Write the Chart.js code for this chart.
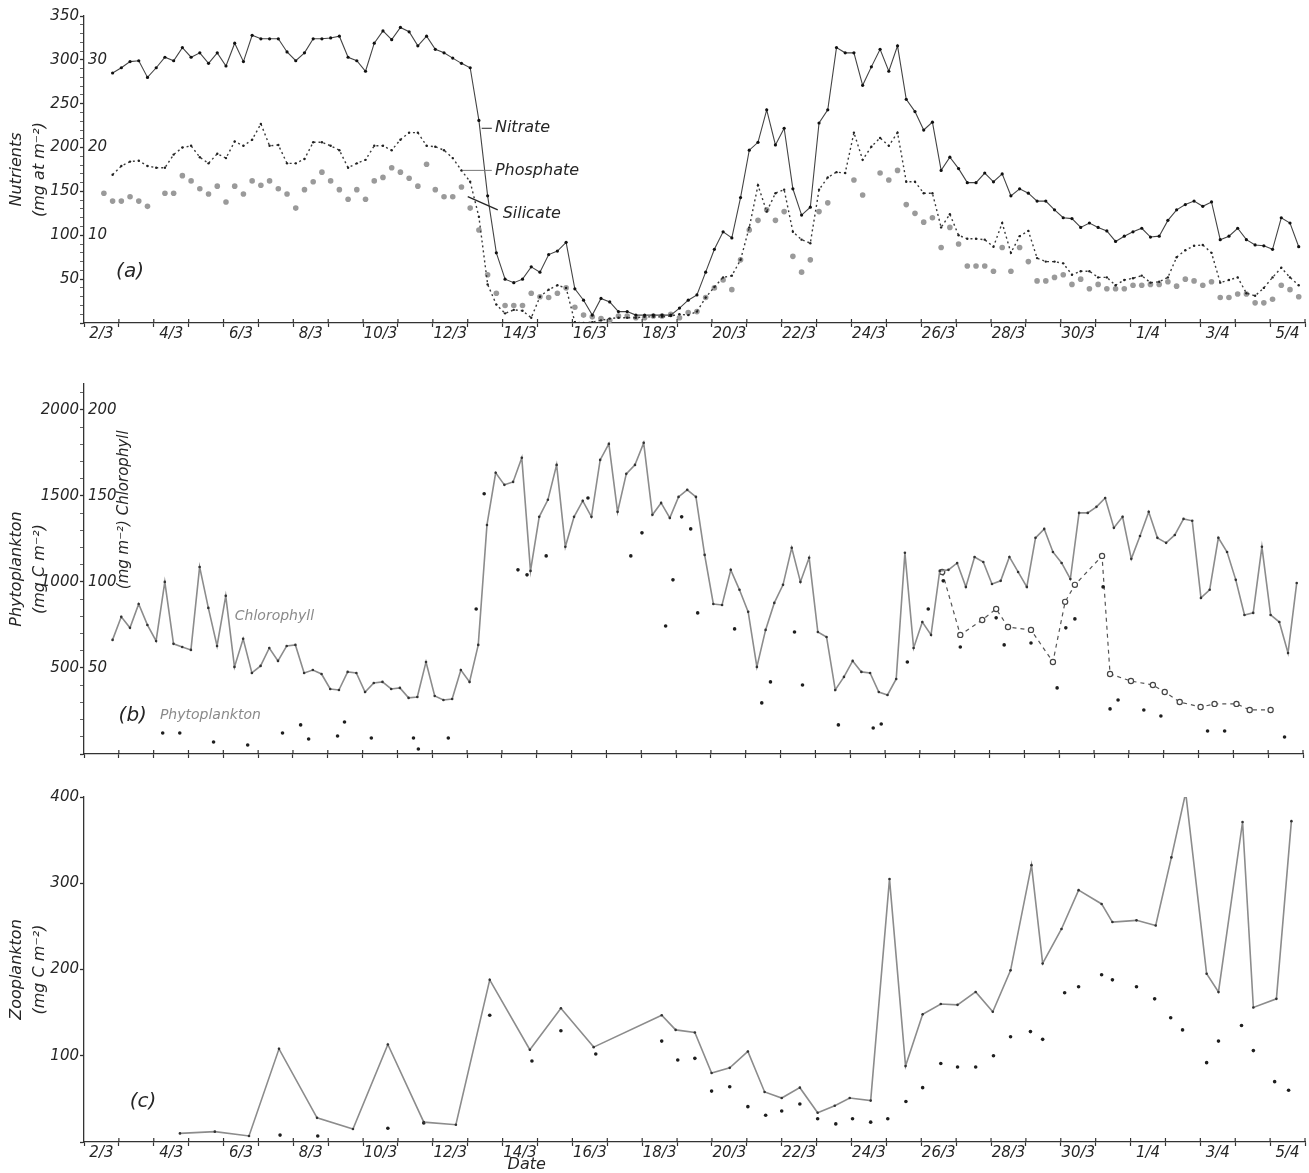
<!DOCTYPE html>
<html><head><meta charset="utf-8">
<script src="https://cdn.jsdelivr.net/npm/chart.js@4.4.1/dist/chart.umd.min.js"></script>
<style>
html,body{margin:0;padding:0;background:#fff;}
#wrap{position:relative;width:1309px;height:1173px;background:#fff;}
canvas{position:absolute;left:0;}
</style></head><body>
<div id="wrap">
<canvas id="ca" width="1309" height="370" style="top:0px"></canvas>
<canvas id="cb" width="1309" height="400" style="top:370px"></canvas>
<canvas id="cc" width="1309" height="403" style="top:770px"></canvas>
</div>
<script>
// ---------- categories / tick labels ----------
const dateTickDays   = [2,4,6,8,10,12,14,16,18,20,22,24,26,28,30,32,34,36];
const dateTickLabels = ['2/3','4/3','6/3','8/3','10/3','12/3','14/3','16/3','18/3','20/3','22/3','24/3','26/3','28/3','30/3','1/4','3/4','5/4'];
const nutrientLabels = [50,100,150,200,250,300,350];
const phosphateLabels = [10,20,30];
const phytoLabels = [500,1000,1500,2000];
const chlLabels = [50,100,150,200];
const zooLabels = [100,200,300,400];
const SAMPLE_STEP = 0.25; // 6-hourly sampling (days)

// ---------- (a) nutrients ----------
const nitrateStart = 2.82;
const nitrate = [285,291,298,299,280,291,303,299,314,303,
 308,296,308,293,319,298,328,324,324,324,
 309,299,308,324,324,325,327,303,299,287,
 319,333,323,337,332,316,327,312,308,302,
 296,291,231,145,80,50,46,50,64,58,
 78,82,92,39,26,9,28,24,13,13,
 9,9,9,9,9,17,26,32,58,84,
 104,97,143,197,206,243,203,222,153,123,
 132,228,243,314,308,308,271,292,312,287,
 316,255,241,220,229,174,189,176,160,160,
 171,161,170,145,153,148,139,139,129,120,
 119,109,114,109,105,93,99,104,108,98,
 99,117,129,135,139,133,138,95,99,108,
 95,89,88,84,120,114,87];
const phosphateStart = 2.82;
const phosphate = [16.9,17.9,18.4,18.5,17.9,17.7,17.7,19.2,20.0,20.2,
 18.9,18.2,19.3,18.8,20.7,20.2,20.9,22.7,20.2,20.3,
 18.2,18.2,18.7,20.6,20.6,20.2,19.7,17.7,18.2,18.6,
 20.2,20.2,19.7,20.9,21.7,21.7,20.2,20.1,19.7,18.8,
 17.4,16.1,12.1,4.4,2.1,1.1,1.5,1.4,0.6,3.0,
 3.8,4.3,4.0,0.1,0,0.1,0.3,0.5,0.6,0.6,
 0.6,0.7,0.7,0.7,0.8,1.0,0.9,1.3,2.9,4.1,
 5.2,5.4,7.2,10.9,15.7,12.7,14.8,15.2,10.4,9.5,
 9.1,15.2,16.6,17.2,17.1,21.7,18.6,20.1,21.1,20.2,
 21.7,16.1,16.1,14.8,14.8,10.9,12.4,10.0,9.6,9.6,
 9.5,8.7,11.4,8.0,9.9,10.5,7.4,7.0,7.0,6.8,
 5.5,5.9,5.9,5.2,5.2,4.3,4.9,5.1,5.4,4.6,
 4.7,5.2,7.5,8.3,8.8,8.9,8.0,4.6,4.9,5.2,
 3.4,3.1,4.0,5.2,6.3,5.2,4.3];
const silicateStart = 2.57;
const silicate = [148,
 139,139,144,139,133,null,148,148,168,162,
 153,147,156,138,156,147,162,157,162,153,
 147,131,152,161,172,162,152,141,152,141,
 162,166,177,172,165,156,181,152,144,144,
 155,131,106,55,34,20,20,20,34,30,
 29,34,40,18,9,7,5,3,8,8,
 6,6,8,8,10,6,12,13,29,40,
 49,38,72,106,117,129,117,127,76,58,
 72,127,137,null,null,163,146,null,171,163,
 174,135,125,115,120,86,109,90,65,65,
 65,59,86,59,86,70,48,48,52,55,
 44,50,39,44,39,39,39,43,43,44,
 44,47,42,50,48,43,47,29,29,33,
 33,23,23,27,43,38,30];

// ---------- (b) chlorophyll & phytoplankton ----------
const chlStart = 2.82;
const chlorophyll = [66.3,79.7,73.3,87.2,75.0,65.7,100.0,64.0,62.2,60.5,
 108.7,84.9,62.8,91.9,50.6,66.9,47.1,51.2,61.6,54.1,
 62.8,63.4,47.1,48.8,46.5,37.8,37.2,47.7,47.1,36.0,
 41.3,41.9,37.8,38.4,32.6,33.1,53.5,33.7,31.4,32.0,
 48.8,41.9,63.4,133.1,163.4,156.4,158.1,172.1,106.4,137.8,
 147.7,168.0,120.4,137.8,147.1,137.8,170.9,180.2,140.7,162.8,
 168.0,180.8,139.0,145.9,137.2,149.4,153.5,149.4,115.7,87.2,
 86.6,107.0,95.4,82.6,50.6,72.1,87.8,98.3,119.8,100.0,
 114.0,70.9,68.0,37.2,44.8,54.1,47.7,47.1,36.0,34.3,
 43.6,116.9,61.6,76.7,69.2,106.4,107.0,111.0,97.1,114.5,
 111.6,98.8,100.6,114.5,105.8,97.1,125.6,130.8,117.4,111.0,
 101.7,140.1,140.1,143.6,148.8,131.4,137.8,113.4,126.7,140.7,
 125.6,122.7,127.3,136.6,135.5,90.7,95.4,125.6,117.4,101.2,
 80.8,82.0,120.4,80.8,76.7,58.7,99.4];
const phytoDays = [4.26,4.75,5.72,6.70,7.70,8.22,8.45,9.28,9.48,10.25,11.46,11.60,12.46,13.26,13.49,14.46,14.72,15.27,16.47,17.70,18.02,18.70,18.91,19.16,19.42,19.62,20.68,21.46,21.71,22.40,22.63,23.66,24.66,24.89,25.64,26.24,26.67,27.16,28.19,28.42,29.19,29.94,30.19,30.45,31.26,31.46,31.69,32.43,32.92,34.26,34.75,36.47];
const phytoVals = [122,122,70,52,122,169,87,105,186,93,93,29,93,843,1512,1070,1041,1151,1488,1151,1285,744,1012,1378,1308,820,727,297,419,709,401,169,151,174,535,843,1006,622,791,634,645,384,733,785,971,262,314,256,221,134,134,99];
const phytoLineDays = [26.64,27.16,27.79,28.19,28.53,29.19,29.82,30.17,30.45,31.23,31.46,32.06,32.69,33.03,33.46,34.06,34.46,35.09,35.47,36.07];
const phytoLineVals = [1058,692,779,843,738,721,535,884,983,1151,465,424,401,360,302,273,291,291,256,256];

// ---------- (c) zooplankton ----------
const zooDays = [4.75,5.75,6.73,7.59,8.68,9.71,10.71,11.74,12.66,13.63,14.78,15.67,16.61,18.56,18.96,19.51,19.99,20.51,21.03,21.51,22.00,22.52,23.03,23.52,23.95,24.55,25.09,25.55,26.04,26.56,27.04,27.56,28.05,28.56,29.16,29.48,30.02,30.51,31.17,31.48,32.17,32.72,33.17,33.58,34.18,34.52,35.21,35.52,36.18,36.61];
const zooVals = [10,12,7,108,28,15,113,23,20,188,107,155,110,147,130,127,80,86,105,58,51,63,34,42,51,48,305,88,148,160,159,174,151,199,321,207,247,292,276,255,257,251,330,405,195,174,371,156,166,372];
const zooDotDays = [7.62,8.70,10.71,11.74,13.63,14.84,15.67,16.67,18.56,19.02,19.51,19.99,20.51,21.03,21.54,22.00,22.52,23.03,23.55,24.03,24.55,25.04,25.56,26.04,26.56,27.04,27.56,28.07,28.56,29.13,29.48,30.11,30.51,31.17,31.48,32.17,32.69,33.15,33.49,34.18,34.52,35.18,35.52,36.13,36.53];
const zooDotVals = [8,7,16,22,147,94,129,102,117,95,97,59,64,41,31,36,44,27,21,27,23,27,47,63,91,87,87,100,122,128,119,173,180,194,188,180,166,144,130,92,117,135,106,70,60];

// ---------- helpers ----------
const FAM = '"DejaVu Sans", "Liberation Sans", sans-serif';
const INK = '#262626';
const seq = (start, vals) => vals.map((v, i) => ({x: start + i * SAMPLE_STEP, y: v}));
const pts = (days, vals) => vals.map((v, i) => ({x: days[i], y: v}));

const extrasPlugin = {
  id: 'extras',
  afterDraw(chart, args, opts) {
    const ctx = chart.ctx, xs = chart.scales.x;
    ctx.save();
    // crossing tick marks above the x axis (the reference uses "+" marks)
    const yb = chart.chartArea.bottom;
    ctx.strokeStyle = '#333'; ctx.lineWidth = 1.2;
    xs.ticks.forEach(t => {
      if (Number.isInteger(t.value) && t.value > 2) {
        const x = xs.getPixelForValue(t.value);
        ctx.beginPath(); ctx.moveTo(x, yb - 4); ctx.lineTo(x, yb); ctx.stroke();
      }
    });
    (opts.inner || []).forEach(it => {
      const sc = chart.scales[it.axis];
      ctx.font = it.font; ctx.fillStyle = it.color;
      ctx.textAlign = 'left'; ctx.textBaseline = 'middle';
      it.values.forEach(v => ctx.fillText(String(v), chart.chartArea.left + it.dx, sc.getPixelForValue(v)));
    });
    (opts.lines || []).forEach(l => {
      const sc = chart.scales[l.axis || 'y'];
      ctx.strokeStyle = l.color || INK; ctx.lineWidth = l.width || 1;
      ctx.beginPath();
      ctx.moveTo(xs.getPixelForValue(l.d1), sc.getPixelForValue(l.v1));
      ctx.lineTo(xs.getPixelForValue(l.d2), sc.getPixelForValue(l.v2));
      ctx.stroke();
    });
    (opts.texts || []).forEach(t => {
      const sc = chart.scales[t.axis || 'y'];
      ctx.font = t.font; ctx.fillStyle = t.color || INK;
      ctx.textAlign = t.align || 'left'; ctx.textBaseline = 'middle';
      const x = xs.getPixelForValue(t.d), y = sc.getPixelForValue(t.v);
      if (t.rotate) {
        ctx.save(); ctx.translate(x, y); ctx.rotate(-Math.PI / 2);
        ctx.textAlign = 'center'; ctx.fillText(t.text, 0, 0); ctx.restore();
      } else ctx.fillText(t.text, x, y);
    });
    ctx.restore();
  }
};

function xAxis(showLabels, height) {
  return {
    type: 'linear', min: 2, max: 37,
    afterBuildTicks: s => { const t = []; for (let v = 2; v <= 37; v += 0.5) t.push({value: v}); s.ticks = t; },
    ticks: {
      autoSkip: false, maxRotation: 0, minRotation: 0, padding: 0, color: INK,
      font: {family: FAM, style: 'italic', size: 15, lineHeight: 1.0},
      callback: v => { if (!showLabels) return ''; const i = dateTickDays.indexOf(v - 0.5); return i >= 0 ? dateTickLabels[i] : ''; }
    },
    grid: {drawOnChartArea: false, tickLength: 4, tickWidth: 1.2,
      tickColor: c => (c.tick && Number.isInteger(c.tick.value)) ? '#333' : 'rgba(0,0,0,0)'},
    border: {color: '#333', width: 1.3},
    afterFit: s => { s.height = height; }
  };
}
function yAxis(max, step, labels, title, major) {
  return {
    position: 'left', min: 0, max: max,
    afterBuildTicks: s => { const t = []; for (let v = 0; v <= max; v += step) t.push({value: v}); s.ticks = t; },
    ticks: {autoSkip: false, padding: 1, color: INK, font: {family: FAM, style: 'italic', size: 15},
      callback: v => labels.includes(v) ? String(v) : ''},
    grid: {drawOnChartArea: false, tickLength: 4,
      tickWidth: c => (c.tick && c.tick.value % major === 0) ? 1.3 : 1,
      tickColor: c => (c.tick && c.tick.value % major === 0) ? '#333' : '#666'},
    border: {color: '#333', width: 1.3},
    title: {display: true, text: title, color: INK, font: {family: FAM, style: 'italic', size: 16, lineHeight: 1.4}, padding: {top: 6, bottom: 0}},
    afterFit: s => { s.width = 84; }
  };
}
const baseOpts = (pad) => ({
  responsive: false, animation: false, devicePixelRatio: 1,
  layout: {padding: pad},
  plugins: {legend: {display: false}, tooltip: {enabled: false}}
});

// ---------- panel (a) ----------
{
  const o = baseOpts({top: 16, right: 4, left: 0, bottom: 0});
  o.scales = {
    x: xAxis(true, 47),
    y: yAxis(350, 10, nutrientLabels, ['Nutrients', '(mg at m\u207B\u00B2)'], 50),
    y2: {display: false, min: 0, max: 35}
  };
  o.plugins.extras = {
    inner: [{axis: 'y2', values: phosphateLabels, dx: 4, font: 'italic 15px ' + FAM, color: INK}],
    lines: [
      {d1: 13.40, v1: 222, d2: 13.69, v2: 222},
      {d1: 12.86, v1: 174, d2: 13.69, v2: 174, color: '#777'},
      {d1: 13.00, v1: 144, d2: 13.86, v2: 129, width: 1.3}
    ],
    texts: [
      {d: 3.32, v: 58, text: '(a)', font: 'italic 20px ' + FAM, align: 'center'},
      {d: 13.78, v: 222, text: 'Nitrate', font: 'italic 16px ' + FAM},
      {d: 13.78, v: 174, text: 'Phosphate', font: 'italic 16px ' + FAM},
      {d: 14.00, v: 125, text: 'Silicate', font: 'italic 16px ' + FAM}
    ]
  };
  new Chart(document.getElementById('ca'), {
    type: 'line',
    data: {datasets: [
      {label: 'Nitrate', data: seq(nitrateStart, nitrate), yAxisID: 'y', borderColor: '#444', borderWidth: 1.1,
       pointRadius: 1.6, pointBackgroundColor: '#111', pointBorderWidth: 0, tension: 0},
      {label: 'Phosphate', data: seq(phosphateStart, phosphate), yAxisID: 'y2', borderColor: '#3a3a3a', borderWidth: 1.4,
       borderDash: [2, 3], pointRadius: 1.2, pointBackgroundColor: '#222', pointBorderWidth: 0, tension: 0},
      {label: 'Silicate', data: seq(silicateStart, silicate), yAxisID: 'y', showLine: false,
       pointRadius: 2.8, pointBackgroundColor: '#9a9a9a', pointBorderWidth: 0}
    ]},
    options: o, plugins: [extrasPlugin]
  });
}

// ---------- panel (b) ----------
{
  const o = baseOpts({top: 14, right: 6, left: 0, bottom: 0});
  o.scales = {
    x: xAxis(false, 16),
    y: yAxis(2150, 100, phytoLabels, ['Phytoplankton', '(mg C m\u207B\u00B2)'], 500),
    y2: {display: false, min: 0, max: 215}
  };
  o.plugins.extras = {
    inner: [{axis: 'y2', values: chlLabels, dx: 4, font: 'italic 15px ' + FAM, color: INK}],
    texts: [
      {d: 3.40, v: 221, text: '(b)', font: 'italic 20px ' + FAM, align: 'center'},
      {d: 4.18, v: 227, text: 'Phytoplankton', font: 'italic 14px ' + FAM, color: '#8a8a8a'},
      {d: 6.33, v: 797, text: 'Chlorophyll', font: 'italic 14px ' + FAM, color: '#8a8a8a'},
      {d: 3.15, v: 1419, text: '(mg m\u207B\u00B2) Chlorophyll', font: 'italic 15px ' + FAM, rotate: true}
    ]
  };
  new Chart(document.getElementById('cb'), {
    type: 'line',
    data: {datasets: [
      {label: 'Chlorophyll', data: seq(chlStart, chlorophyll), yAxisID: 'y2', borderColor: '#8c8c8c', borderWidth: 1.6,
       pointRadius: 1.3, pointBackgroundColor: '#333', pointBorderWidth: 0, tension: 0},
      {label: 'Phytoplankton', data: pts(phytoDays, phytoVals), yAxisID: 'y', showLine: false,
       pointRadius: 1.8, pointBackgroundColor: '#1e1e1e', pointBorderWidth: 0},
      {label: 'Phytoplankton (series 2)', data: pts(phytoLineDays, phytoLineVals), yAxisID: 'y', borderColor: '#555', borderWidth: 1.2,
       borderDash: [4, 4], pointRadius: 2.6, pointBackgroundColor: '#fff', pointBorderColor: '#444', pointBorderWidth: 1.2, tension: 0}
    ]},
    options: o, plugins: [extrasPlugin]
  });
}

// ---------- panel (c) ----------
{
  const o = baseOpts({top: 27, right: 2, left: 0, bottom: 0});
  o.scales = {
    x: xAxis(true, 31),
    y: yAxis(400, 100, zooLabels, ['Zooplankton', '(mg C m\u207B\u00B2)'], 100)
  };
  o.plugins.extras = {
    texts: [
      {d: 3.69, v: 47, text: '(c)', font: 'italic 20px ' + FAM, align: 'center'},
      {d: 14.69, v: -27, text: 'Date', font: 'italic 16px ' + FAM, align: 'center'}
    ]
  };
  new Chart(document.getElementById('cc'), {
    type: 'line',
    data: {datasets: [
      {label: 'Zooplankton', data: pts(zooDays, zooVals), borderColor: '#8c8c8c', borderWidth: 1.6,
       pointRadius: 1.3, pointBackgroundColor: '#333', pointBorderWidth: 0, tension: 0},
      {label: 'Zooplankton (series 2)', data: pts(zooDotDays, zooDotVals), showLine: false,
       pointRadius: 1.8, pointBackgroundColor: '#1e1e1e', pointBorderWidth: 0}
    ]},
    options: o, plugins: [extrasPlugin]
  });
}
</script>
</body></html>
